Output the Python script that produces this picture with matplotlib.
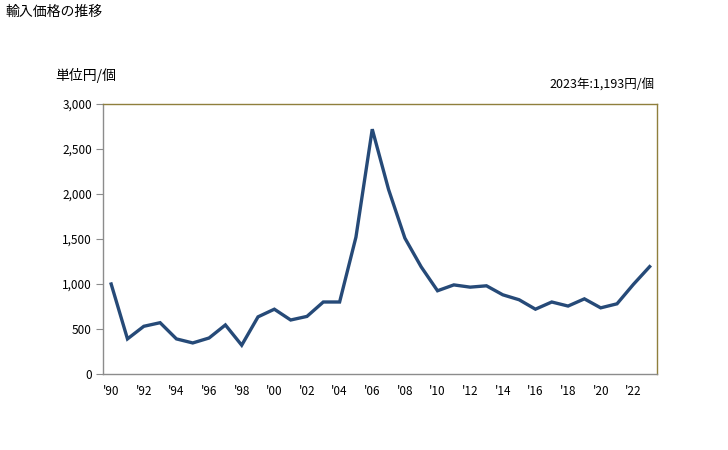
"""Import price trend (yen per piece), 1990-2023."""

import matplotlib

matplotlib.use("Agg")

import matplotlib.pyplot as plt
from matplotlib.ticker import FuncFormatter

plt.rcParams["font.family"] = ["Noto Sans CJK JP", "DejaVu Sans"]

years = list(range(1990, 2024))
price = [1000, 390, 530, 570, 390, 345, 400, 545, 320, 635,
         720, 600, 640, 800, 800, 1520, 2720, 2050, 1510, 1190,
         925, 990, 965, 980, 880, 825, 720, 800, 755, 835,
         735, 780, 995, 1193]
xtick_years = list(range(1990, 2023, 2))
yticks = [0, 500, 1000, 1500, 2000, 2500, 3000]

LINE = "#264a78"
FRAME = "#8f7f3c"
AXIS = "#8c8c8c"


def main() -> None:
    fig = plt.figure(figsize=(7.28, 4.5), dpi=100)
    ax = fig.add_axes([103 / 728, 1 - 374 / 450, 554 / 728, 270 / 450])
    ax.plot(years, price, color=LINE, lw=2.4, solid_joinstyle="miter")
    ax.set_xlim(1989.5, 2023.45)
    ax.set_ylim(0, 3000)
    ax.set_yticks(yticks)
    ax.yaxis.set_major_formatter(FuncFormatter(lambda v, _: f"{int(v):,}"))
    ax.set_xticks(xtick_years, [f"'{y % 100:02d}" for y in xtick_years])
    ax.tick_params(axis="y", length=5, color=AXIS, labelsize=8.5, pad=3)
    ax.tick_params(axis="x", length=0, labelsize=8.5, pad=8)
    for side in ("top", "right"):
        ax.spines[side].set_color(FRAME)
    for side in ("left", "bottom"):
        ax.spines[side].set_color(AXIS)
    for spine in ax.spines.values():
        spine.set_linewidth(1.0)

    fig.text(5 / 728, 1 - 12 / 450, "輸入価格の推移", fontsize=10, va="center", ha="left")
    fig.text(55 / 728, 1 - 75 / 450, "単位円/個", fontsize=10, va="center", ha="left")
    fig.text(655 / 728, 1 - 85 / 450, "2023年:1,193円/個", fontsize=9, va="center", ha="right")

    fig.savefig("out.png", dpi=100)
    plt.close(fig)


if __name__ == "__main__":
    main()
